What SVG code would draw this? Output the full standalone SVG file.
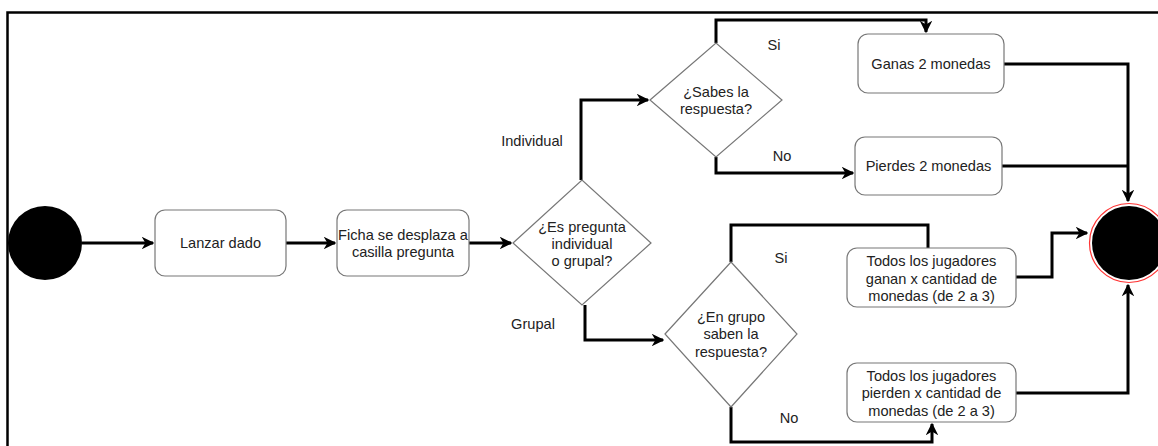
<svg xmlns="http://www.w3.org/2000/svg" width="1158" height="446" viewBox="0 0 1158 446">
<style>
.box{fill:#fff;stroke:#777;stroke-width:1.2}
.dia{fill:#fff;stroke:#777;stroke-width:1.2}
.t{font-family:"Liberation Sans",Arial,sans-serif;font-size:14.6px;fill:#222;text-anchor:middle}
.c{fill:none;stroke:#000;stroke-width:3}
</style>
<defs>
<marker id="arr" viewBox="0 0 10 10" refX="9" refY="5" markerWidth="4.2" markerHeight="4.2" orient="auto" markerUnits="strokeWidth">
<path d="M0,0 L10,5 L0,10 L3,5 Z" fill="#000"/>
</marker>
</defs>
<rect width="1158" height="446" fill="#fff"/>
<path d="M7.5,446 V12.5 H1158" fill="none" stroke="#000" stroke-width="2.5"/>
<g id="connectors">
<path class="c" d="M82,243 H153" marker-end="url(#arr)"/>
<path class="c" d="M286,243 H335" marker-end="url(#arr)"/>
<path class="c" d="M469,243 H511" marker-end="url(#arr)"/>
<path class="c" d="M581,180 V100 H648" marker-end="url(#arr)"/>
<path class="c" d="M716,43 V20 H926 V32" marker-end="url(#arr)"/>
<path class="c" d="M716,157 V173 H853" marker-end="url(#arr)"/>
<path class="c" d="M1004,64 H1128 V201" marker-end="url(#arr)"/>
<path class="c" d="M1002,166 H1128"/>
<path class="c" d="M585,305 V340 H663" marker-end="url(#arr)"/>
<path class="c" d="M731,262 V225 H928 V248"/>
<path class="c" d="M731,407 V442 H932 V424" marker-end="url(#arr)"/>
<path class="c" d="M1016,277 H1052 V233 H1087" marker-end="url(#arr)"/>
<path class="c" d="M1016,393 H1128 V285" marker-end="url(#arr)"/>
</g>
<g id="labels">
<text class="t" x="532" y="146">Individual</text>
<text class="t" x="533" y="329">Grupal</text>
<text class="t" x="774" y="50">Si</text>
<text class="t" x="782" y="161">No</text>
<text class="t" x="781" y="263">Si</text>
<text class="t" x="789" y="423">No</text>
</g>
<g id="start"><circle cx="45" cy="243" r="37" fill="#000"/></g>
<g id="lanzar"><rect class="box" x="155" y="210" width="131" height="66" rx="10"/><text class="t" x="220.5" y="248">Lanzar dado</text></g>
<g id="ficha"><rect class="box" x="337" y="210" width="132" height="66" rx="10"/><text class="t" x="403" y="240">Ficha se desplaza a</text><text class="t" x="403" y="257">casilla pregunta</text></g>
<g id="d1"><path class="dia" d="M513,243 L582,180 L651,243 L582,305 Z"/><text class="t" x="582" y="232">¿Es pregunta</text><text class="t" x="582" y="249">individual</text><text class="t" x="582" y="266">o grupal?</text></g>
<g id="d2"><path class="dia" d="M650,100 L716,43 L782,100 L716,157 Z"/><text class="t" x="716" y="97">¿Sabes la</text><text class="t" x="716" y="114">respuesta?</text></g>
<g id="d3"><path class="dia" d="M665,334 L731,262 L797,334 L731,407 Z"/><text class="t" x="731" y="322">¿En grupo</text><text class="t" x="731" y="339">saben la</text><text class="t" x="731" y="357">respuesta?</text></g>
<g id="ganas"><rect class="box" x="858" y="34" width="146" height="59" rx="10"/><text class="t" x="931" y="69">Ganas 2 monedas</text></g>
<g id="pierdes"><rect class="box" x="855" y="137" width="147" height="58" rx="10"/><text class="t" x="928.5" y="171">Pierdes 2 monedas</text></g>
<g id="ganan"><rect class="box" x="847" y="248" width="169" height="59" rx="10"/><text class="t" x="931.5" y="266">Todos los jugadores</text><text class="t" x="931.5" y="284">ganan x cantidad de</text><text class="t" x="931.5" y="301">monedas (de 2 a 3)</text></g>
<g id="pierden"><rect class="box" x="847" y="363" width="169" height="59" rx="10"/><text class="t" x="931.5" y="381">Todos los jugadores</text><text class="t" x="931.5" y="398">pierden x cantidad de</text><text class="t" x="931.5" y="416">monedas (de 2 a 3)</text></g>
<g id="end"><circle cx="1129" cy="243" r="39.5" fill="#fff" stroke="#f33" stroke-width="1.2"/><circle cx="1129" cy="243" r="37" fill="#000"/></g>
</svg>
